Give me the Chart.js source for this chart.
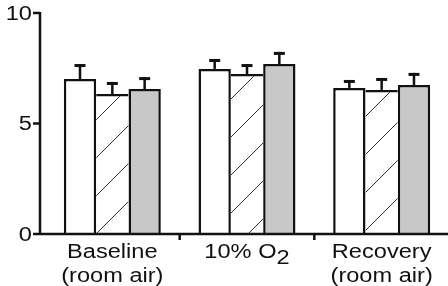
<!DOCTYPE html>
<html>
<head>
<meta charset="utf-8">
<script src="https://cdn.jsdelivr.net/npm/chart.js@4"></script>
<style>
  html, body { margin: 0; padding: 0; background: #fff; overflow: hidden; }
  #wrap { width: 452px; height: 286px; }
</style>
</head>
<body>
<div id="wrap"><canvas id="chart" width="452" height="286"></canvas></div>
<script>
// data
const categories = [['Baseline', '(room air)'], ['10% O₂'], ['Recovery', '(room air)']];
const yTicks = [0, 5, 10];
const openVals = [7.01, 7.47, 6.61];
const openErr = [0.68, 0.45, 0.36];
const hatchVals = [6.33, 7.24, 6.52];
const hatchErr = [0.55, 0.45, 0.54];
const greyVals = [6.56, 7.69, 6.74];
const greyErr = [0.54, 0.55, 0.55];

const series = [openVals, hatchVals, greyVals];
const errors = [openErr, hatchErr, greyErr];

const INK = '#111';
const FONT = '20px "Liberation Sans", Arial, sans-serif';
const STRETCH = 1.18;
const BW = 2.5;

function hatchPattern() {
    const c = document.createElement('canvas');
    c.width = 38; c.height = 38;
    const g = c.getContext('2d');
    g.fillStyle = '#fff';
    g.fillRect(0, 0, 38, 38);
    g.strokeStyle = '#333';
    g.lineWidth = 1;
    [-12, 26, 64].forEach(k => {
        g.beginPath();
        g.moveTo(k + 5, -5);
        g.lineTo(k - 43, 43);
        g.stroke();
    });
    return g.createPattern(c, 'repeat');
}

// the taller of two touching bars keeps the shared edge
function sideWidths(ctx) {
    const d = ctx.datasetIndex, i = ctx.dataIndex;
    const v = series[d][i];
    const left = d === 0 ? BW : (series[d - 1][i] >= v ? 0 : BW);
    const right = d === series.length - 1 ? BW : (series[d + 1][i] > v ? 0 : BW);
    return { top: BW, left: left, right: right, bottom: 0 };
}

function wideText(ctx, text, x, y, align) {
    ctx.save();
    ctx.translate(x, y);
    ctx.scale(STRETCH, 1);
    ctx.textAlign = align;
    ctx.fillText(text, 0, 0);
    ctx.restore();
}

const errorBars = {
    id: 'errorBars',
    afterDatasetsDraw(chart) {
        const ctx = chart.ctx;
        const y = chart.scales.y;
        ctx.save();
        ctx.fillStyle = INK;
        chart.data.datasets.forEach((ds, d) => {
            chart.getDatasetMeta(d).data.forEach((bar, i) => {
                const top = y.getPixelForValue(series[d][i] + errors[d][i]);
                ctx.fillRect(bar.x - 1.25, top, 2.5, bar.y - top);
                ctx.fillRect(bar.x - 5.5, top, 11, 3);
            });
        });
        ctx.restore();
    }
};

const axes = {
    id: 'axes',
    afterDatasetsDraw(chart) {
        const ctx = chart.ctx;
        const area = chart.chartArea;
        const x = chart.scales.x;
        const y = chart.scales.y;
        const ax = area.left - 5;
        const base = y.getPixelForValue(0);

        ctx.save();
        ctx.fillStyle = INK;
        // y axis
        ctx.fillRect(ax - 1.25, y.getPixelForValue(10) - 1, 2.5, base - y.getPixelForValue(10) + 2);
        // x axis
        ctx.fillRect(ax, base - 1.25, chart.width - ax, 2.5);

        ctx.font = FONT;
        ctx.textBaseline = 'middle';
        yTicks.forEach(t => {
            const py = y.getPixelForValue(t);
            ctx.fillRect(ax - 7, py - 1.25, 7, 2.5);
            wideText(ctx, String(t), ax - 8, py + 1, 'right');
        });

        // category separators below the axis
        for (let i = 0; i < categories.length - 1; i++) {
            const px = (x.getPixelForValue(i) + x.getPixelForValue(i + 1)) / 2;
            ctx.fillRect(px - 1.25, base, 2.5, 6);
        }

        ctx.textBaseline = 'alphabetic';
        categories.forEach((lines, i) => {
            const cx = x.getPixelForValue(i);
            lines.forEach((line, j) => {
                const py = base + 24 + j * 24;
                if (line.includes('₂')) {
                    const head = line.replace('₂', '');
                    const w1 = ctx.measureText(head).width * STRETCH;
                    const w2 = ctx.measureText('2').width * STRETCH;
                    const start = cx - (w1 + w2) / 2;
                    wideText(ctx, head, start, py, 'left');
                    wideText(ctx, '2', start + w1, py + 6, 'left');
                } else {
                    wideText(ctx, line, cx, py, 'center');
                }
            });
        });
        ctx.restore();
    }
};

const ctx = document.getElementById('chart').getContext('2d');
const fills = ['#ffffff', hatchPattern(), '#c8c8c8'];

new Chart(ctx, {
    type: 'bar',
    data: {
        labels: categories.map(c => c.join(' ')),
        datasets: series.map((vals, d) => ({
            data: vals,
            backgroundColor: fills[d],
            borderColor: INK,
            borderWidth: sideWidths,
            borderSkipped: false,
            barPercentage: 1,
            categoryPercentage: 0.72
        }))
    },
    options: {
        responsive: false,
        animation: false,
        layout: { padding: { left: 45, right: 3, top: 13, bottom: 52 } },
        plugins: { legend: { display: false }, tooltip: { enabled: false } },
        scales: {
            x: { type: 'category', display: false, offset: true },
            y: { display: false, min: 0, max: 10 }
        }
    },
    plugins: [axes, errorBars]
});
</script>
</body>
</html>
